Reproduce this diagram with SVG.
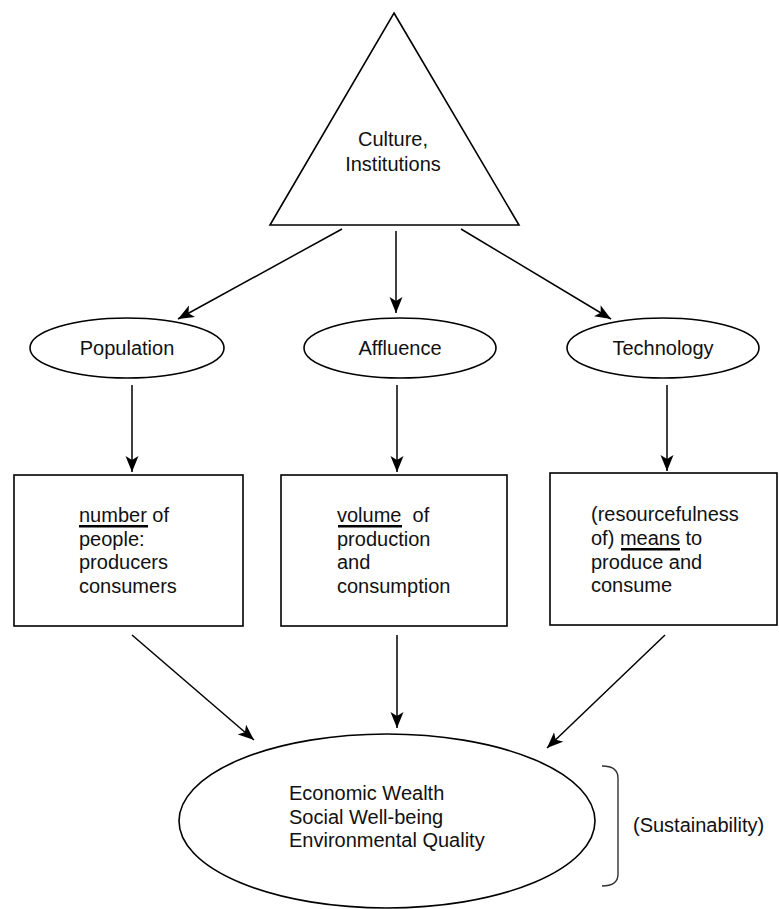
<svg xmlns="http://www.w3.org/2000/svg" width="779" height="909" viewBox="0 0 779 909">
<defs>
<marker id="ah" markerUnits="userSpaceOnUse" markerWidth="18" markerHeight="14" refX="16" refY="7" orient="auto">
<path d="M0,0.5 L16,7 L0,13.5 L4,7 Z" fill="#000"/>
</marker>
</defs>
<style>
.s{fill:#fff;stroke:#000;stroke-width:1.6}
.t{font-family:"Liberation Sans",Arial,Helvetica,sans-serif;font-size:20px;fill:#111}
.c{text-anchor:middle}
.e{stroke:#000;stroke-width:1.5;fill:none;marker-end:url(#ah)}
.u{fill:#000}
</style>
<rect width="779" height="909" fill="#fff"/>
<g id="culture">
<polygon class="s" points="394,13 519,225 270,225"/>
<text class="t c" x="393" y="146">Culture,</text>
<text class="t c" x="393" y="171">Institutions</text>
</g>
<g id="population">
<ellipse class="s" cx="127" cy="348" rx="97" ry="30"/>
<text class="t c" x="127" y="355">Population</text>
</g>
<g id="affluence">
<ellipse class="s" cx="400" cy="348" rx="96" ry="30"/>
<text class="t c" x="400" y="355">Affluence</text>
</g>
<g id="technology">
<ellipse class="s" cx="663" cy="348" rx="96" ry="30"/>
<text class="t c" x="663" y="355">Technology</text>
</g>
<g id="box-number">
<rect class="s" x="14" y="475" width="229" height="151"/>
<text class="t" x="79" y="522">number of</text>
<rect class="u" x="79" y="525" width="69" height="2.5"/>
<text class="t" x="79" y="546">people:</text>
<text class="t" x="79" y="569">producers</text>
<text class="t" x="79" y="593">consumers</text>
</g>
<g id="box-volume">
<rect class="s" x="281" y="475" width="226" height="151"/>
<text class="t" x="337" y="522" xml:space="preserve">volume  of</text>
<rect class="u" x="338" y="525" width="64" height="2.5"/>
<text class="t" x="337" y="546">production</text>
<text class="t" x="337" y="569">and</text>
<text class="t" x="337" y="593">consumption</text>
</g>
<g id="box-means">
<rect class="s" x="550" y="473" width="227" height="152"/>
<text class="t" x="591" y="521">(resourcefulness</text>
<text class="t" x="591" y="545">of) means to</text>
<rect class="u" x="621" y="548" width="59" height="2.5"/>
<text class="t" x="591" y="569">produce and</text>
<text class="t" x="591" y="592">consume</text>
</g>
<g id="outcomes">
<ellipse class="s" cx="387" cy="821" rx="208" ry="87"/>
<text class="t" x="289" y="800">Economic Wealth</text>
<text class="t" x="289" y="824">Social Well-being</text>
<text class="t" x="289" y="847">Environmental Quality</text>
</g>
<g id="sustainability">
<path d="M602,766 Q618,766 618,778 L618,874 Q618,886 602,886" fill="none" stroke="#333" stroke-width="1.4"/>
<text class="t" x="633" y="832">(Sustainability)</text>
</g>
<g id="connectors">
<line class="e" x1="342" y1="229" x2="178" y2="319"/>
<line class="e" x1="396" y1="231" x2="396" y2="313"/>
<line class="e" x1="461" y1="229" x2="611" y2="319"/>
<line class="e" x1="132" y1="385" x2="132" y2="472"/>
<line class="e" x1="397" y1="385" x2="397" y2="472"/>
<line class="e" x1="667" y1="385" x2="667" y2="471"/>
<line class="e" x1="132" y1="635" x2="254" y2="740"/>
<line class="e" x1="397" y1="635" x2="397" y2="728"/>
<line class="e" x1="665" y1="635" x2="547" y2="748"/>
</g>
</svg>
